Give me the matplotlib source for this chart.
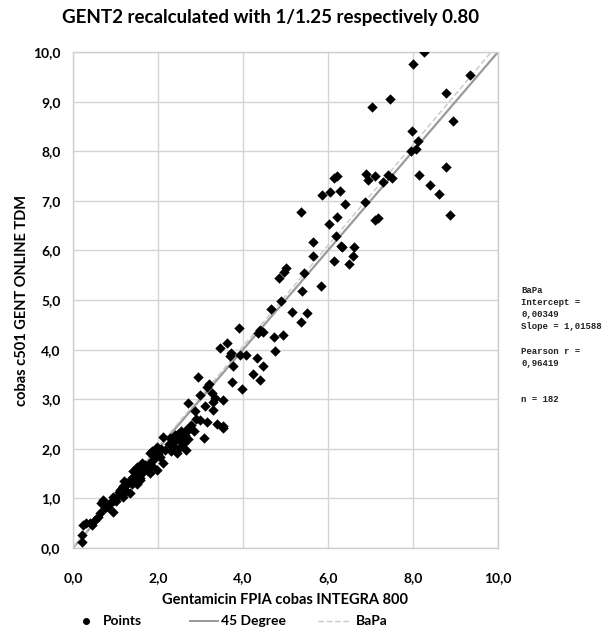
import numpy as np
import matplotlib.pyplot as plt
from matplotlib.lines import Line2D

# FPIA (x) vs c501 (y) values
x_vals = [
    # upper region
    8.25, 7.99, 9.33, 8.77, 7.45, 7.03, 8.94, 7.97, 8.12, 7.95, 8.07, 8.77, 8.14, 8.40, 8.60, 8.86,
    6.22, 6.15, 5.87, 6.05, 6.28, 6.39, 5.36, 6.20, 6.03, 6.19, 6.89, 6.95, 7.11, 7.29, 7.41, 7.50,
    6.88, 7.11, 7.18,
    5.65, 6.30, 6.34, 6.61, 6.58, 5.65, 6.15, 6.49, 5.01, 4.96, 4.84, 5.44, 5.38, 5.84, 4.89, 4.67,
    5.15, 5.50, 5.36, 4.40, 4.48, 4.36, 4.73, 4.93, 4.75, 4.34, 4.48, 4.24, 4.41,
    # middle region
    3.91, 3.63, 3.47, 3.71, 3.69, 3.93, 4.07, 3.76, 2.93, 3.73, 3.97, 3.21, 3.15, 2.99, 3.26, 3.34,
    3.54, 2.70, 3.11, 3.29, 2.87, 3.29, 2.78, 2.99, 3.15, 3.38, 3.52, 3.54, 3.08, 2.12, 1.80,
    2.28, 2.40, 2.60, 2.67, 2.72, 2.32, 2.52, 2.67, 1.85, 1.97, 2.44, 2.60, 2.16,
    # dense lower band
    0.95, 1.11, 1.26, 1.42, 1.50, 1.62, 1.73, 1.81, 1.89, 2.05, 2.12, 2.36, 2.52, 2.64, 1.34, 1.18,
    1.58, 1.97,
    0.20, 0.20, 0.24, 0.40, 0.52, 0.64, 0.67, 0.71, 0.83, 0.95, 0.95, 1.03, 1.18, 1.22, 1.34, 1.50,
    1.62, 1.58,
    0.30, 0.45, 0.58, 0.75, 0.88, 1.00, 1.08, 1.15, 1.25, 1.38, 1.45, 1.55, 1.65, 1.70, 1.78, 1.85,
    1.92, 2.00, 2.08, 2.25, 2.30, 2.40, 2.48, 2.55, 2.62, 2.70, 2.85, 2.90, 1.40, 1.20,
]
y_vals = [
    10.00, 9.75, 9.54, 9.18, 9.05, 8.90, 8.60, 8.41, 8.21, 8.01, 8.04, 7.68, 7.53, 7.31, 7.13, 6.71,
    7.51, 7.46, 7.12, 7.18, 7.20, 6.94, 6.78, 6.68, 6.53, 6.30, 7.55, 7.42, 7.50, 7.37, 7.52, 7.45,
    6.98, 6.61, 6.65,
    6.16, 6.09, 6.07, 6.07, 5.89, 5.89, 5.78, 5.73, 5.65, 5.57, 5.44, 5.54, 5.19, 5.28, 4.98, 4.81,
    4.76, 4.73, 4.56, 4.40, 4.36, 4.33, 4.25, 4.29, 3.97, 3.84, 3.66, 3.51, 3.39,
    4.44, 4.13, 4.03, 3.94, 3.87, 3.89, 3.89, 3.67, 3.45, 3.35, 3.21, 3.31, 3.24, 3.08, 3.12, 3.02,
    2.98, 2.93, 2.86, 2.95, 2.76, 2.78, 2.48, 2.58, 2.55, 2.51, 2.45, 2.41, 2.21, 2.23, 1.92,
    2.21, 2.28, 2.25, 2.38, 2.40, 2.08, 2.04, 1.98, 1.95, 2.04, 1.91, 2.11, 1.98,
    1.03, 1.17, 1.30, 1.44, 1.64, 1.71, 1.57, 1.51, 1.77, 1.84, 1.71, 2.04, 2.18, 2.28, 1.10, 1.24,
    1.37, 1.57,
    0.13, 0.26, 0.46, 0.50, 0.56, 0.70, 0.90, 0.97, 0.83, 0.73, 0.94, 1.03, 1.03, 1.24, 1.37, 1.30,
    1.51, 1.41,
    0.50, 0.47, 0.62, 0.80, 0.90, 0.95, 1.12, 1.20, 1.15, 1.30, 1.40, 1.50, 1.60, 1.68, 1.70, 1.65,
    1.85, 1.90, 2.00, 2.10, 1.95, 2.15, 2.30, 2.35, 2.15, 2.20, 2.35, 2.60, 1.55, 1.35,
]

bapa_intercept = 0.00349
bapa_slope = 1.01588
pearson_r = 0.96419
n_points = 182

plt.rcParams['font.family'] = ['Lato', 'DejaVu Sans']
plt.rcParams['font.weight'] = 'bold'

W, H = 611, 633
fig = plt.figure(figsize=(W/100, H/100), dpi=100)
ax = fig.add_axes([73/W, 1 - 548/H, 425/W, 496/H])

ax.scatter(x_vals, y_vals, marker='D', s=28, color='black', linewidths=0, zorder=3)

line_x = np.array([0.0, 10.0])
ax.plot(line_x, line_x, color='#9a9a9a', lw=1.6, zorder=2)
ax.plot(line_x, bapa_intercept + bapa_slope*line_x, color='#c8c8c8', lw=1.0,
        ls=(0, (4, 2)), zorder=2)

ax.set_xlim(0, 10)
ax.set_ylim(0, 10)
ax.set_xticks(np.arange(0, 10.1, 2))
ax.set_yticks(np.arange(0, 10.1, 1))
ax.set_xticklabels([f"{v:.1f}".replace('.', ',') for v in np.arange(0, 10.1, 2)])
ax.set_yticklabels([f"{v:.1f}".replace('.', ',') for v in np.arange(0, 10.1, 1)])
ax.tick_params(length=0, labelsize=10)
ax.tick_params(axis='x', pad=17)
ax.tick_params(axis='y', pad=9)
ax.grid(True, color='#d4d4d4', lw=1.0)
ax.set_axisbelow(True)
for sp in ax.spines.values():
    sp.set_color('#cfcfcf')
    sp.set_linewidth(1.0)

ax.set_xlabel('Gentamicin FPIA cobas INTEGRA 800', fontsize=10.5, fontweight='bold', labelpad=7)
ax.set_ylabel('cobas c501 GENT ONLINE TDM', fontsize=10.5, fontweight='bold', labelpad=3)

fig.text(271/W, 1 - 18/H, 'GENT2 recalculated with 1/1.25 respectively 0.80',
         ha='center', va='center', fontsize=13.5, fontweight='bold')

stats = ("BaPa\nIntercept =\n" + f"{bapa_intercept:.5f}".replace('.', ',') +
         "\nSlope = " + f"{bapa_slope:.5f}".replace('.', ',') +
         "\n\nPearson r =\n" + f"{pearson_r:.5f}".replace('.', ',') +
         f"\n\n\nn = {n_points}")
fig.text(521/W, 1 - 286/H, stats, ha='left', va='top', fontsize=6.5,
         family='Liberation Mono', fontweight='bold', linespacing=1.45, color='#222222')

# legend below the x label, laid out by hand
ly = 1 - 621/H
fig.add_artist(Line2D([86/W], [ly], marker='o', ls='none', color='black', markersize=4))
fig.text(103/W, ly, 'Points', ha='left', va='center', fontsize=10)
fig.add_artist(Line2D([190/W, 218/W], [ly, ly], color='#9a9a9a', lw=1.4))
fig.text(221/W, ly, '45 Degree', ha='left', va='center', fontsize=10)
fig.add_artist(Line2D([318/W, 350/W], [ly, ly], color='#c8c8c8', lw=1.0, ls=(0, (4, 2))))
fig.text(356/W, ly, 'BaPa', ha='left', va='center', fontsize=10)

fig.savefig('out.png', dpi=100)
